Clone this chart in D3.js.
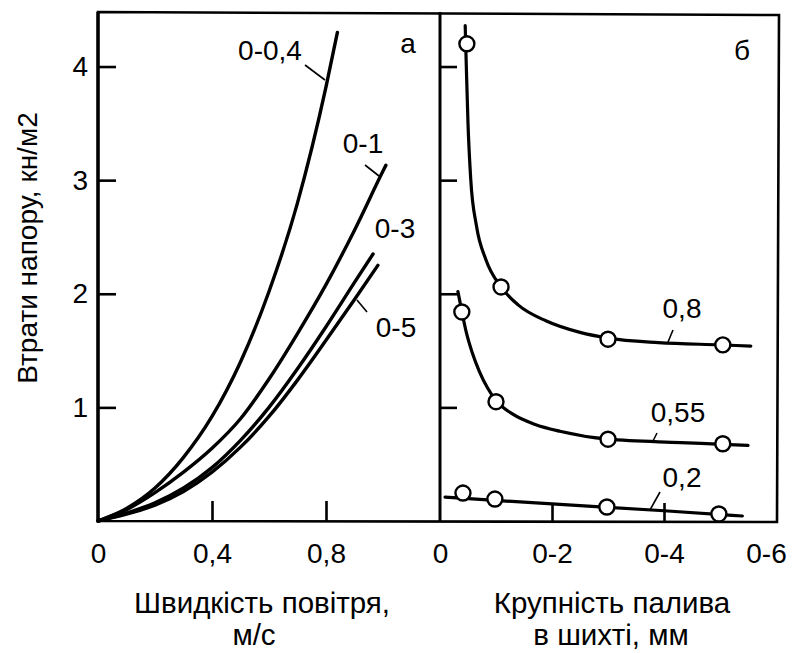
<!DOCTYPE html>
<html><head><meta charset="utf-8">
<script src="https://cdn.jsdelivr.net/npm/d3@7"></script>
<style>
html,body{margin:0;padding:0;background:#fff;}
svg{display:block;font-family:"Liberation Sans",Arial,sans-serif;}
</style></head>
<body><svg id="c" width="792" height="653"></svg>
<script>
// ---- Panel a: pressure loss vs air velocity ----
const velTicks = [0, 0.4, 0.8];
const velTickLabels = ["0", "0,4", "0,8"];
const lossTicks = [1, 2, 3, 4];
const lossTickLabels = ["1", "2", "3", "4"];
const seriesNamesA = ["0-0,4", "0-1", "0-3", "0-5"];
const curve004 = [[0,0],[0.1,0.11],[0.2,0.29],[0.3,0.56],[0.4,0.92],[0.5,1.4],[0.6,2.02],[0.7,2.8],[0.8,3.82],[0.84,4.3]];
const curve01  = [[0,0],[0.1,0.1],[0.2,0.25],[0.3,0.43],[0.4,0.64],[0.5,0.9],[0.6,1.25],[0.7,1.65],[0.8,2.08],[0.9,2.56],[1.0,3.08],[1.01,3.13]];
const curve03  = [[0,0],[0.1,0.07],[0.2,0.16],[0.3,0.29],[0.4,0.47],[0.5,0.71],[0.6,1.0],[0.7,1.34],[0.8,1.71],[0.9,2.1],[0.965,2.35]];
const curve05  = [[0,0],[0.1,0.06],[0.2,0.14],[0.3,0.26],[0.4,0.43],[0.5,0.65],[0.6,0.92],[0.7,1.24],[0.8,1.59],[0.9,1.95],[0.982,2.25]];

// ---- Panel б: pressure loss vs fuel size ----
const sizeTicks = [0, 0.2, 0.4, 0.6];
const sizeTickLabels = ["0", "0-2", "0-4", "0-6"];
const seriesNamesB = ["0,8", "0,55", "0,2"];
const line08  = [[0.045,4.36],[0.047,4.0],[0.05,3.5],[0.055,3.0],[0.065,2.6],[0.082,2.3],[0.109,2.06],[0.14,1.9],[0.19,1.76],[0.25,1.66],[0.30,1.61],[0.39,1.57],[0.5,1.55],[0.555,1.54]];
const line055 = [[0.032,2.02],[0.036,1.92],[0.04,1.82],[0.047,1.66],[0.057,1.49],[0.07,1.32],[0.085,1.17],[0.10,1.06],[0.13,0.94],[0.17,0.85],[0.214,0.79],[0.30,0.72],[0.43,0.69],[0.505,0.675],[0.55,0.665]];
const line02  = [[0.009,0.21],[0.2,0.15],[0.4,0.09],[0.54,0.044]];
const pts08  = [[0.048,4.20],[0.109,2.06],[0.30,1.60],[0.505,1.55]];
const pts055 = [[0.039,1.84],[0.10,1.05],[0.30,0.72],[0.505,0.68]];
const pts02  = [[0.041,0.246],[0.098,0.193],[0.298,0.123],[0.498,0.062]];

const texts = {
  yTitle: "Втрати напору, кн/м2",
  xTitleA: ["Швидкість повітря,", "м/с"],
  xTitleB: ["Крупність палива", "в шихті, мм"],
  panelA: "а", panelB: "б"
};

const svg = d3.select("#c");
const FS = 28, FST = 29.5;
const y = d3.scaleLinear().domain([0, 4.48]).range([521, 12]);
const xA = d3.scaleLinear().domain([0, 1.2]).range([98, 440]);
const xB = d3.scaleLinear().domain([0, 0.6]).range([440, 776]);

// frame
svg.append("path")
  .attr("d", `M${xA(0)},${y(4.48)} L${xB(0.6)+3},${y(4.48)+3} L${xB(0.6)+1},${y(0)+1} L${xA(0)},${y(0)} Z`)
  .attr("fill", "none").attr("stroke", "#000").attr("stroke-width", 2.6);
svg.append("line").attr("x1", xB(0)).attr("x2", xB(0)).attr("y1", y(4.48)).attr("y2", y(0))
  .attr("stroke", "#000").attr("stroke-width", 3);
svg.append("line").attr("x1", xA(0)).attr("x2", xA(0)).attr("y1", y(4.48)).attr("y2", y(0))
  .attr("stroke", "#000").attr("stroke-width", 3.4);

function styleAxis(g) {
  g.select(".domain").remove();
  g.selectAll(".tick line").attr("stroke", "#000").attr("stroke-width", 2.6);
  g.selectAll(".tick text").attr("fill", "#000").style("font-size", FS + "px")
    .style("font-family", '"Liberation Sans",Arial,sans-serif');
}

// axes panel a
svg.append("g").attr("transform", `translate(${xA(0)},0)`)
  .call(d3.axisLeft(y).tickValues(lossTicks).tickSize(-18).tickPadding(10)
    .tickFormat((d, i) => lossTickLabels[i]))
  .call(styleAxis);
svg.append("g").attr("transform", `translate(0,${y(0)})`)
  .call(d3.axisBottom(xA).tickValues(velTicks).tickSize(-20).tickPadding(22)
    .tickFormat((d, i) => velTickLabels[i]))
  .call(styleAxis);
// axes panel б
svg.append("g").attr("transform", `translate(${xB(0)},0)`)
  .call(d3.axisRight(y).tickValues(lossTicks).tickSize(17).tickFormat(""))
  .call(styleAxis);
const gxB = svg.append("g").attr("transform", `translate(0,${y(0)})`)
  .call(d3.axisBottom(xB).tickValues(sizeTicks).tickSize(-18).tickPadding(22)
    .tickFormat((d, i) => sizeTickLabels[i]))
  .call(styleAxis);
gxB.selectAll(".tick").filter(d => d === 0.6).select("text").attr("dx", -10);
svg.selectAll(".tick").filter(d => d === 0 || d === 0.6).select("line").remove();

// curves
const lineA = d3.line().x(d => xA(d[0])).y(d => y(d[1])).curve(d3.curveMonotoneX);
const lineB = d3.line().x(d => xB(d[0])).y(d => y(d[1])).curve(d3.curveMonotoneX);
[curve004, curve01, curve03, curve05].forEach(c => {
  svg.append("path").attr("d", lineA(c)).attr("fill", "none").attr("stroke", "#000")
    .attr("stroke-width", 3.4).attr("stroke-linecap", "round");
});
[line08, line055, line02].forEach(c => {
  svg.append("path").attr("d", lineB(c)).attr("fill", "none").attr("stroke", "#000")
    .attr("stroke-width", 3.2).attr("stroke-linecap", "round");
});
[pts08, pts055, pts02].forEach(p => {
  svg.append("g").selectAll("circle").data(p).join("circle")
    .attr("cx", d => xB(d[0])).attr("cy", d => y(d[1])).attr("r", 7.5)
    .attr("fill", "#fff").attr("stroke", "#000").attr("stroke-width", 2.4);
});

// leaders
const leaders = [[305,65,325,80],[365,165,379,176],[357,300,367,312],[673,330,668,342],[657,433,652,443],[660,492,650,510]];
svg.append("g").selectAll("line").data(leaders).join("line")
  .attr("x1", d => d[0]).attr("y1", d => d[1]).attr("x2", d => d[2]).attr("y2", d => d[3])
  .attr("stroke", "#000").attr("stroke-width", 1.6);

// labels
function label(t, x, yy, fs) {
  svg.append("text").attr("x", x).attr("y", yy).attr("text-anchor", "middle")
    .style("font-size", (fs || FS) + "px").attr("fill", "#000").text(t);
}
label(seriesNamesA[0], 270, 60);
label(seriesNamesA[1], 363, 153);
label(seriesNamesA[2], 395, 238);
label(seriesNamesA[3], 396, 337);
label(texts.panelA, 408, 53);
label(texts.panelB, 742, 60);
label(seriesNamesB[0], 682, 318);
label(seriesNamesB[1], 678, 422);
label(seriesNamesB[2], 682, 487);

label(texts.xTitleA[0], 262, 613, FST);
label(texts.xTitleA[1], 254, 645, FST);
label(texts.xTitleB[0], 612, 613, FST);
label(texts.xTitleB[1], 611, 645, FST);
svg.append("text").attr("transform", "translate(37,248) rotate(-90)").attr("text-anchor", "middle")
  .style("font-size", FS + "px").attr("fill", "#000").text(texts.yTitle);
</script></body></html>
